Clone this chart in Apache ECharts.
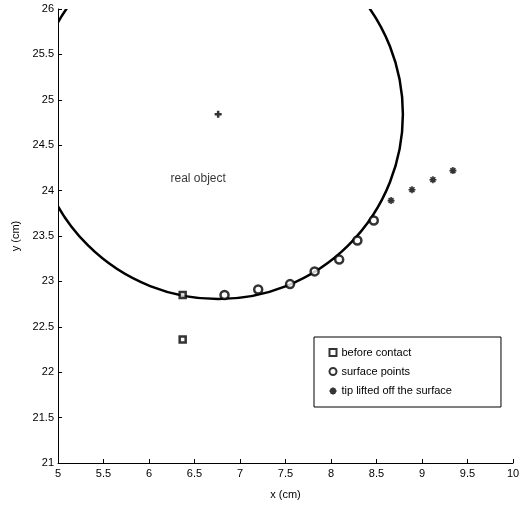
<!DOCTYPE html>
<html>
<head>
<meta charset="utf-8">
<script src="https://cdn.jsdelivr.net/npm/echarts@6/dist/echarts.min.js"></script>
<style>
  html, body { margin: 0; padding: 0; background: #fff; }
  #chart { width: 528px; height: 508px; }
</style>
</head>
<body>
<div id="chart"></div>
<script>
// data (cm)
var beforeContact = [[6.37, 22.85], [6.37, 22.36]];
var surfacePoints = [[6.83, 22.85], [7.2, 22.91], [7.55, 22.97], [7.82, 23.11], [8.09, 23.24], [8.29, 23.45], [8.47, 23.67]];
var tipLifted = [[8.66, 23.89], [8.89, 24.01], [9.12, 24.12], [9.34, 24.22]];
var objectCenter = [[6.76, 24.84]];
var objectCircle = [[6.76, 24.84, 2.03]]; // centre x, centre y, radius
var objectLabel = [[6.54, 24.13]];

var font = 'Liberation Sans, Arial, sans-serif';
var asterisk = 'path://M0 5 L10 5 M5 0 L5 10 M1.5 1.5 L8.5 8.5 M8.5 1.5 L1.5 8.5';
var plus = 'path://M0 5 L10 5 M5 0 L5 10';

var myChart = echarts.init(document.getElementById('chart'));

var option = {
    animation: false,
    backgroundColor: '#fff',
    textStyle: { fontFamily: font },
    grid: { left: 58, right: 15, top: 9, bottom: 45 },
    legend: {
        orient: 'vertical',
        left: 314,
        top: 337,
        padding: [10, 49, 10, 13],
        itemGap: 8,
        itemWidth: 7,
        itemHeight: 7,
        borderColor: '#000',
        borderWidth: 1,
        backgroundColor: '#fff',
        textStyle: { fontSize: 11, color: '#000', fontFamily: font },
        data: ['before contact', 'surface points', 'tip lifted off the surface']
    },
    xAxis: {
        type: 'value',
        min: 5, max: 10, interval: 0.5,
        name: 'x (cm)',
        nameLocation: 'middle',
        nameGap: 26,
        nameTextStyle: { fontSize: 11, color: '#000' },
        axisLine: { lineStyle: { color: '#000' } },
        axisTick: { inside: true, length: 4, lineStyle: { color: '#000' } },
        axisLabel: { fontSize: 11, color: '#000', margin: 5 },
        splitLine: { show: false }
    },
    yAxis: {
        type: 'value',
        min: 21, max: 26, interval: 0.5,
        name: 'y (cm)',
        nameLocation: 'middle',
        nameGap: 30,
        nameTextStyle: { fontSize: 11, color: '#000' },
        axisLine: { lineStyle: { color: '#000' } },
        axisTick: { inside: true, length: 4, lineStyle: { color: '#000' } },
        axisLabel: { fontSize: 11, color: '#000', margin: 4 },
        splitLine: { show: false }
    },
    series: [
        {
            name: 'object',
            type: 'custom',
            clip: true,
            data: objectCircle,
            renderItem: function (params, api) {
                var c = api.coord([api.value(0), api.value(1)]);
                var r = api.size([api.value(2), 0])[0];
                return {
                    type: 'circle',
                    shape: { cx: c[0], cy: c[1], r: r },
                    style: { fill: 'none', stroke: '#000', lineWidth: 2.5 }
                };
            },
            z: 1
        },
        {
            name: 'centre',
            type: 'scatter',
            data: objectCenter,
            symbol: plus,
            symbolSize: 7,
            itemStyle: { color: 'none', borderColor: '#000', borderWidth: 2.5 },
            z: 3
        },
        {
            name: 'label',
            type: 'scatter',
            data: objectLabel,
            symbolSize: 0,
            label: {
                show: true,
                position: 'inside',
                formatter: 'real object',
                fontSize: 12,
                color: '#000',
                fontFamily: font
            },
            silent: true
        },
        {
            name: 'before contact',
            type: 'scatter',
            data: beforeContact,
            symbol: 'rect',
            symbolSize: 6,
            itemStyle: { color: '#fff', borderColor: '#000', borderWidth: 2.5 },
            z: 4
        },
        {
            name: 'surface points',
            type: 'scatter',
            data: surfacePoints,
            symbol: 'circle',
            symbolSize: 8,
            itemStyle: { color: '#fff', borderColor: '#000', borderWidth: 2.5 },
            z: 4
        },
        {
            name: 'tip lifted off the surface',
            type: 'scatter',
            data: tipLifted,
            symbol: asterisk,
            symbolSize: 7,
            itemStyle: { color: 'none', borderColor: '#000', borderWidth: 1.6 },
            z: 4
        }
    ]
};

myChart.setOption(option);
</script>
</body>
</html>
